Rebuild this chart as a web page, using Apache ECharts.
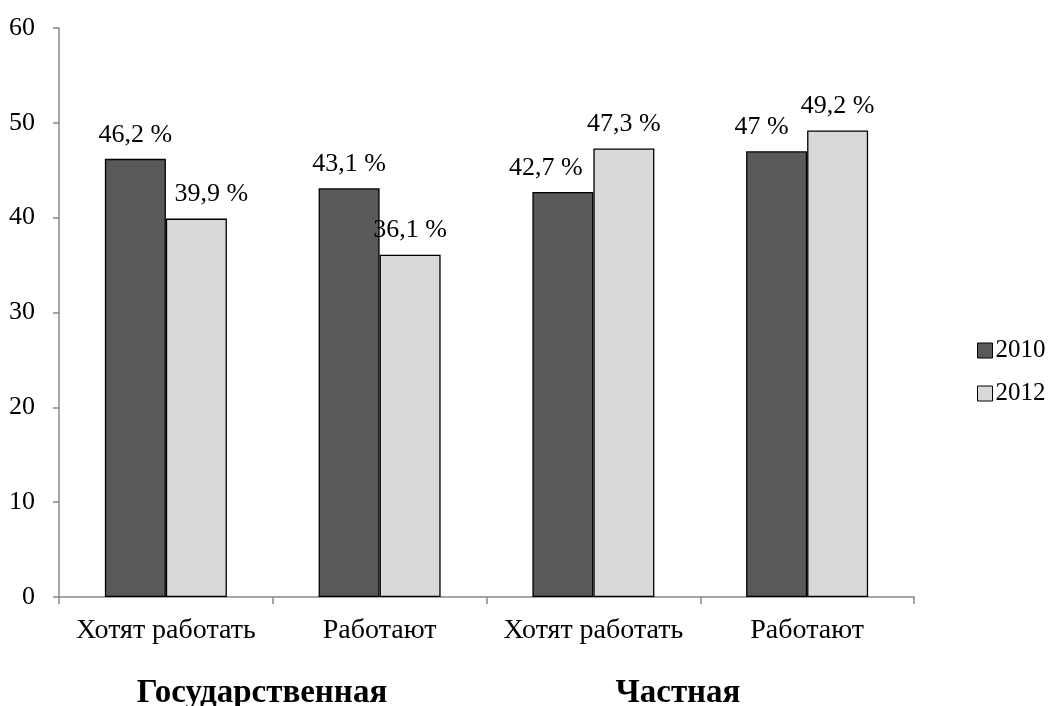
<!DOCTYPE html>
<html><head><meta charset="utf-8">
<script src="https://cdn.jsdelivr.net/npm/echarts@6/dist/echarts.min.js"></script>
<style>html,body{margin:0;padding:0;background:#fff}#c{width:1049px;height:706px}</style>
</head><body><div id="c"></div>
<script>
const categories = ['Хотят работать', 'Работают', 'Хотят работать', 'Работают'];
const groups = ['Государственная', 'Частная'];
const seriesNames = ['2010', '2012'];
const values2010 = [46.2, 43.1, 42.7, 47];
const values2012 = [39.9, 36.1, 47.3, 49.2];
const yTicks = { min: 0, max: 60, interval: 10 };

// label nudges (style only), as in the original Excel layout
const labelShift2010 = [0, 0, -17, -15];
const labelShift2012 = [15, 0, 0, 0];

const font = 'Liberation Serif, Times New Roman, serif';
const fmt = p => String(p.value).replace('.', ',') + ' %';
const chart = echarts.init(document.getElementById('c'));
const mk = (name, data, color, shifts) => ({
  name, type: 'bar', barWidth: 61, barGap: '0%',
  data: data.map((v, i) => ({ value: v, label: { offset: [shifts[i], 0] } })),
  itemStyle: { color, borderColor: '#000', borderWidth: 1.3 },
  label: { show: true, position: 'top', distance: 11, formatter: fmt,
    fontFamily: font, fontSize: 26, color: '#000' }
});
chart.setOption({
  animation: false,
  textStyle: { fontFamily: font },
  grid: { left: 59, right: 135, top: 28, bottom: 109, containLabel: false },
  legend: {
    orient: 'vertical', left: 977, top: 338, padding: 0, itemWidth: 15, itemHeight: 15, itemGap: 18,
    icon: 'rect',
    textStyle: { fontFamily: font, fontSize: 25, color: '#000', padding: [0, 0, 0, -2] },
    data: seriesNames.map(n => ({ name: n, itemStyle: { borderColor: '#000', borderWidth: 1 } }))
  },
  xAxis: {
    type: 'category', data: categories,
    axisLine: { lineStyle: { color: '#888', width: 1.5 } },
    axisTick: { show: true, interval: 0, length: 7, lineStyle: { color: '#888', width: 1.5 } },
    axisLabel: { interval: 0, hideOverlap: false, fontFamily: font, fontSize: 28, color: '#000', margin: 20 }
  },
  yAxis: {
    type: 'value', min: yTicks.min, max: yTicks.max, interval: yTicks.interval,
    splitLine: { show: false },
    axisLine: { show: true, lineStyle: { color: '#888', width: 1.5 } },
    axisTick: { show: true, length: 6, lineStyle: { color: '#888', width: 1.5 } },
    axisLabel: { fontFamily: font, fontSize: 26, color: '#000', margin: 24 }
  },
  series: [
    mk(seriesNames[0], values2010, '#595959', labelShift2010),
    mk(seriesNames[1], values2012, '#d9d9d9', labelShift2012)
  ],
  graphic: [
    { type: 'text', x: 262, y: 693, style: { text: groups[0], font: 'bold 33px ' + font, fill: '#000', align: 'center', verticalAlign: 'middle' } },
    { type: 'text', x: 678, y: 693, style: { text: groups[1], font: 'bold 33px ' + font, fill: '#000', align: 'center', verticalAlign: 'middle' } }
  ]
});
</script></body></html>
